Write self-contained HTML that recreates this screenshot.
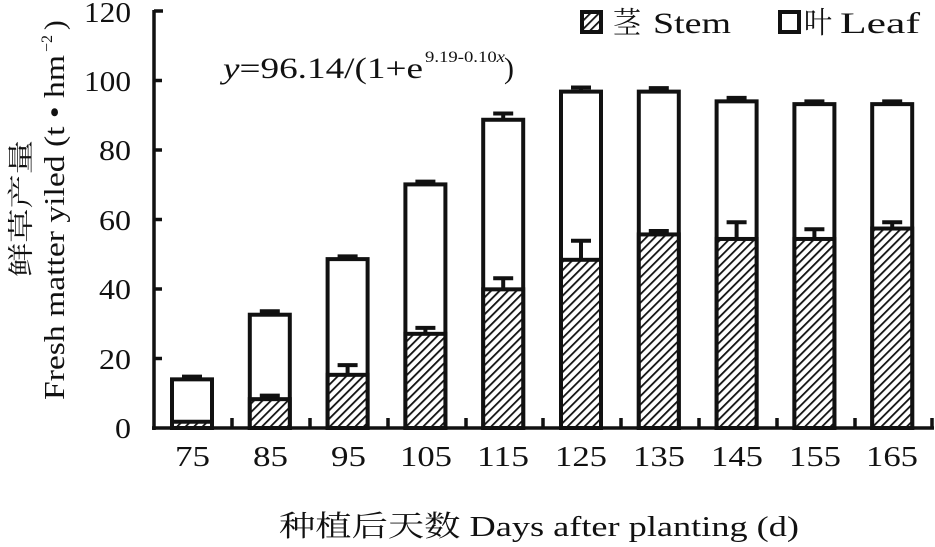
<!DOCTYPE html>
<html><head><meta charset="utf-8"><style>
html,body{margin:0;padding:0;background:#fff;}
svg{display:block;}
text{font-family:"Liberation Serif","Noto Serif CJK SC",serif;fill:#111;}
</style></head><body>
<svg width="935" height="547" viewBox="0 0 935 547" xmlns="http://www.w3.org/2000/svg">
<defs>
<pattern id="h" patternUnits="userSpaceOnUse" width="6" height="6" patternTransform="rotate(45)">
<rect width="6" height="6" fill="#fff"/><rect x="0" y="0" width="1.8" height="6" fill="#111"/>
</pattern>
</defs>
<g stroke="#111" stroke-width="3.5" fill="none">
<line x1="154" y1="10" x2="154" y2="430"/>
<line x1="152" y1="428" x2="934" y2="428"/>
<line x1="154" y1="11" x2="163" y2="11"/>
<line x1="154" y1="80.5" x2="162" y2="80.5"/>
<line x1="154" y1="150" x2="162" y2="150"/>
<line x1="154" y1="219.5" x2="162" y2="219.5"/>
<line x1="154" y1="289" x2="162" y2="289"/>
<line x1="154" y1="358.5" x2="162" y2="358.5"/>
<line x1="232" y1="428" x2="232" y2="418"/>
<line x1="310" y1="428" x2="310" y2="418"/>
<line x1="388" y1="428" x2="388" y2="418"/>
<line x1="466" y1="428" x2="466" y2="418"/>
<line x1="543" y1="428" x2="543" y2="418"/>
<line x1="621" y1="428" x2="621" y2="418"/>
<line x1="699" y1="428" x2="699" y2="418"/>
<line x1="777" y1="428" x2="777" y2="418"/>
<line x1="855" y1="428" x2="855" y2="418"/>
<line x1="932" y1="428" x2="932" y2="418"/>
</g>
<g font-size="28">
<text x="84" y="22" textLength="47" lengthAdjust="spacingAndGlyphs">120</text>
<text x="84" y="91" textLength="47" lengthAdjust="spacingAndGlyphs">100</text>
<text x="99" y="160" textLength="32" lengthAdjust="spacingAndGlyphs">80</text>
<text x="99" y="230" textLength="32" lengthAdjust="spacingAndGlyphs">60</text>
<text x="99" y="299" textLength="32" lengthAdjust="spacingAndGlyphs">40</text>
<text x="99" y="369" textLength="32" lengthAdjust="spacingAndGlyphs">20</text>
<text x="115" y="438" textLength="16" lengthAdjust="spacingAndGlyphs">0</text>
</g>
<g font-size="29">
<text x="175" y="466" textLength="35" lengthAdjust="spacingAndGlyphs">75</text>
<text x="253" y="466" textLength="35" lengthAdjust="spacingAndGlyphs">85</text>
<text x="331" y="466" textLength="35" lengthAdjust="spacingAndGlyphs">95</text>
<text x="400" y="466" textLength="52" lengthAdjust="spacingAndGlyphs">105</text>
<text x="477" y="466" textLength="52" lengthAdjust="spacingAndGlyphs">115</text>
<text x="555" y="466" textLength="52" lengthAdjust="spacingAndGlyphs">125</text>
<text x="633" y="466" textLength="52" lengthAdjust="spacingAndGlyphs">135</text>
<text x="711" y="466" textLength="52" lengthAdjust="spacingAndGlyphs">145</text>
<text x="789" y="466" textLength="52" lengthAdjust="spacingAndGlyphs">155</text>
<text x="866" y="466" textLength="52" lengthAdjust="spacingAndGlyphs">165</text>
</g>
<text x="279" y="536" font-size="29" textLength="520" lengthAdjust="spacingAndGlyphs">种植后天数 Days after planting (d)</text>
<text transform="translate(30,277) rotate(-90)" font-size="26" fill="#444" textLength="137" lengthAdjust="spacingAndGlyphs">鲜草产量</text>
<text transform="translate(64,400) rotate(-90)" font-size="29" textLength="345" lengthAdjust="spacingAndGlyphs">Fresh matter yiled (t • hm</text>
<text transform="translate(52,52) rotate(-90)" font-size="16">−2</text>
<text transform="translate(64,30) rotate(-90)" font-size="29">)</text>
<text x="223" y="78" font-size="30" font-family="Liberation Sans, sans-serif" textLength="200" lengthAdjust="spacingAndGlyphs"><tspan font-family="Liberation Serif, serif" font-style="italic">y</tspan>=96.14/(1+e</text>
<text x="425" y="62" font-size="16" textLength="80" lengthAdjust="spacingAndGlyphs">9.19-0.10<tspan font-style="italic">x</tspan></text>
<text x="504" y="78" font-size="30" font-family="Liberation Sans, sans-serif">)</text>
<g stroke="#111" stroke-width="4">
<rect x="582" y="12" width="19" height="20" fill="url(#h)"/>
<rect x="780" y="12" width="19" height="20" fill="#fff"/>
</g>
<g font-size="30">
<text x="613" y="33" textLength="28" lengthAdjust="spacingAndGlyphs" fill="#333">茎</text>
<text x="653" y="33" textLength="78" lengthAdjust="spacingAndGlyphs">Stem</text>
<text x="804" y="33" textLength="28" lengthAdjust="spacingAndGlyphs" fill="#333">叶</text>
<text x="840" y="33" textLength="80" lengthAdjust="spacingAndGlyphs">Leaf</text>
</g>
<g id="bars" stroke="#111" stroke-width="4"></g>
</svg>
<script>
var d=[[14,14.8,1.8,1.8],[32.6,33.6,8.3,9.3],[48.6,49.4,15.3,18.1],[70.1,70.9,27.1,28.8],[88.7,90.5,39.9,43.1],[96.8,98,48.4,53.9],[96.8,97.8,55.7,56.7],[94,95,54.4,59.2],[93.2,94,54.4,57.2],[93.2,94,57.4,59.2]];
var g=document.getElementById('bars'),s='';
function Y(v){return 428-3.475*v;}
d.forEach(function(r,i){var c=192+77.8*i,x=c-20;
s+='<rect x="'+x+'" y="'+Y(r[0])+'" width="40" height="'+(Y(0)-Y(r[0]))+'" fill="#fff"/>';
s+='<line x1="'+c+'" y1="'+Y(r[0])+'" x2="'+c+'" y2="'+Y(r[1])+'"/><line x1="'+(c-10)+'" y1="'+Y(r[1])+'" x2="'+(c+10)+'" y2="'+Y(r[1])+'"/>';
s+='<rect x="'+x+'" y="'+Y(r[2])+'" width="40" height="'+(Y(0)-Y(r[2]))+'" fill="url(#h)"/>';
if(r[3]>r[2]+0.3)s+='<line x1="'+c+'" y1="'+Y(r[2])+'" x2="'+c+'" y2="'+Y(r[3])+'"/><line x1="'+(c-10)+'" y1="'+Y(r[3])+'" x2="'+(c+10)+'" y2="'+Y(r[3])+'"/>';
});
g.innerHTML=s;
</script>
</body></html>
